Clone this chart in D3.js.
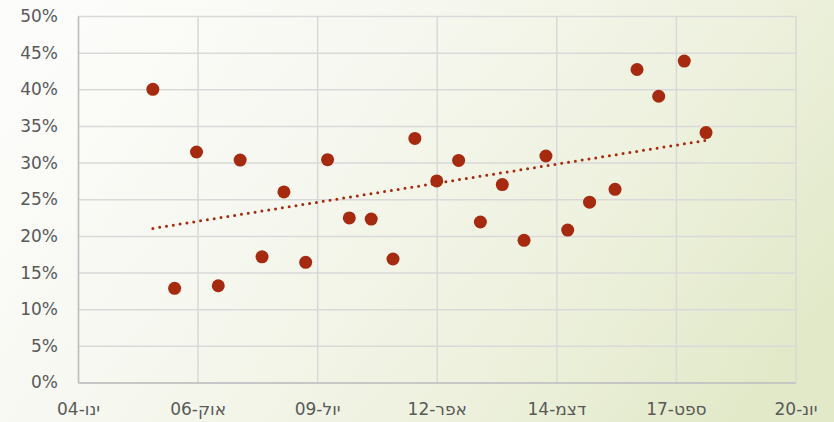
<!DOCTYPE html>
<html>
<head>
<meta charset="utf-8">
<script src="https://cdn.jsdelivr.net/npm/d3@7"></script>
<style>
  html, body { margin: 0; padding: 0; background: #fff; }
  svg { display: block; }
  text { font-family: "DejaVu Sans", "Noto Sans", sans-serif; }
</style>
</head>
<body>
<svg id="chart" width="834" height="422"></svg>
<script>
// ---- data ----
const dates = ["2005-10-01","2006-04-01","2006-10-01","2007-04-01","2007-10-01","2008-04-01",
  "2008-10-01","2009-04-01","2009-10-01","2010-04-01","2010-10-01","2011-04-01","2011-10-01",
  "2012-04-01","2012-10-01","2013-04-01","2013-10-01","2014-04-01","2014-10-01","2015-04-01",
  "2015-10-01","2016-05-01","2016-11-01","2017-05-01","2017-12-01","2018-06-01"];
const values = [40.0,12.85,31.45,13.2,30.35,17.15,26.0,16.4,30.4,22.45,22.3,16.85,33.3,
  27.5,30.3,21.9,27.0,19.4,30.9,20.8,24.6,26.35,42.7,39.05,43.85,34.1];
const tickDates = ["2004-01-14","2006-10-10","2009-07-06","2012-04-01","2014-12-27","2017-09-22","2020-06-18"];
const tickLabels = ["ינו-04","אוק-06","יול-09","אפר-12","דצמ-14","ספט-17","יונ-20"];
const yTicks = [0,5,10,15,20,25,30,35,40,45,50];

// ---- setup ----
const W = 834, H = 422;
const m = {left: 78, right: 834 - 795.5, top: 16, bottom: 422 - 382.5};
const svg = d3.select("#chart");
const parse = d3.utcParse("%Y-%m-%d");
const pts = dates.map((d, i) => ({date: parse(d), v: values[i]}));
const tDates = tickDates.map(parse);

// background gradient
const defs = svg.append("defs");
const g1 = defs.append("linearGradient").attr("id", "bg")
  .attr("x1", "0%").attr("y1", "30%").attr("x2", "100%").attr("y2", "70%");
g1.append("stop").attr("offset", "0%").attr("stop-color", "#fcfcfa");
g1.append("stop").attr("offset", "35%").attr("stop-color", "#f6f7ef");
g1.append("stop").attr("offset", "70%").attr("stop-color", "#edf1dd");
g1.append("stop").attr("offset", "100%").attr("stop-color", "#e2e9c9");
svg.append("rect").attr("width", W).attr("height", H).attr("fill", "url(#bg)");

const x = d3.scaleUtc().domain([tDates[0], tDates[tDates.length - 1]]).range([m.left, W - m.right]);
const y = d3.scaleLinear().domain([0, 50]).range([H - m.bottom, m.top]);

// gridlines
const gridY = svg.append("g").attr("transform", `translate(${m.left},0)`)
  .call(d3.axisLeft(y).tickValues(yTicks).tickSize(-(W - m.left - m.right)).tickFormat(""));
gridY.select(".domain").remove();
gridY.selectAll("line").attr("stroke", "#d9d9d9").attr("stroke-width", 1.5);

const gridX = svg.append("g").attr("transform", `translate(0,${m.top})`)
  .call(d3.axisBottom(x).tickValues(tDates).tickSize(H - m.top - m.bottom).tickFormat(""));
gridX.select(".domain").remove();
gridX.selectAll("line").attr("stroke", "#d9d9d9").attr("stroke-width", 1.5);

// axes
const yAxis = svg.append("g").attr("transform", `translate(${m.left},0)`)
  .call(d3.axisLeft(y).tickValues(yTicks).tickSize(0).tickPadding(20).tickFormat(d => d + "%"));
yAxis.select(".domain").attr("stroke", "#bfbfbf").attr("stroke-width", 1.5);
yAxis.selectAll("text").attr("fill", "#595959").style("font-size", "17px");

const xAxis = svg.append("g").attr("transform", `translate(0,${H - m.bottom})`)
  .call(d3.axisBottom(x).tickValues(tDates).tickSize(0).tickPadding(20).tickFormat((d, i) => tickLabels[i]));
xAxis.select(".domain").attr("stroke", "#bfbfbf").attr("stroke-width", 1.5);
xAxis.selectAll("text").attr("fill", "#595959").style("font-size", "17px");

// trendline (linear regression)
const xs = pts.map(p => +p.date), ys = pts.map(p => p.v);
const mx = d3.mean(xs), my = d3.mean(ys);
const slope = d3.sum(xs.map((xv, i) => (xv - mx) * (ys[i] - my))) / d3.sum(xs.map(xv => (xv - mx) ** 2));
const icpt = my - slope * mx;
const ends = [pts[0].date, pts[pts.length - 1].date];
svg.append("path")
  .datum(ends)
  .attr("d", d3.line().x(d => x(d)).y(d => y(icpt + slope * (+d))))
  .attr("fill", "none").attr("stroke", "#a52a0f").attr("stroke-width", 3)
  .attr("stroke-linecap", "round").attr("stroke-dasharray", "0 6.9");

// points
svg.append("g").selectAll("circle").data(pts).join("circle")
  .attr("cx", d => x(d.date)).attr("cy", d => y(d.v)).attr("r", 6.5)
  .attr("fill", "#a52a0f");
</script>
</body>
</html>
